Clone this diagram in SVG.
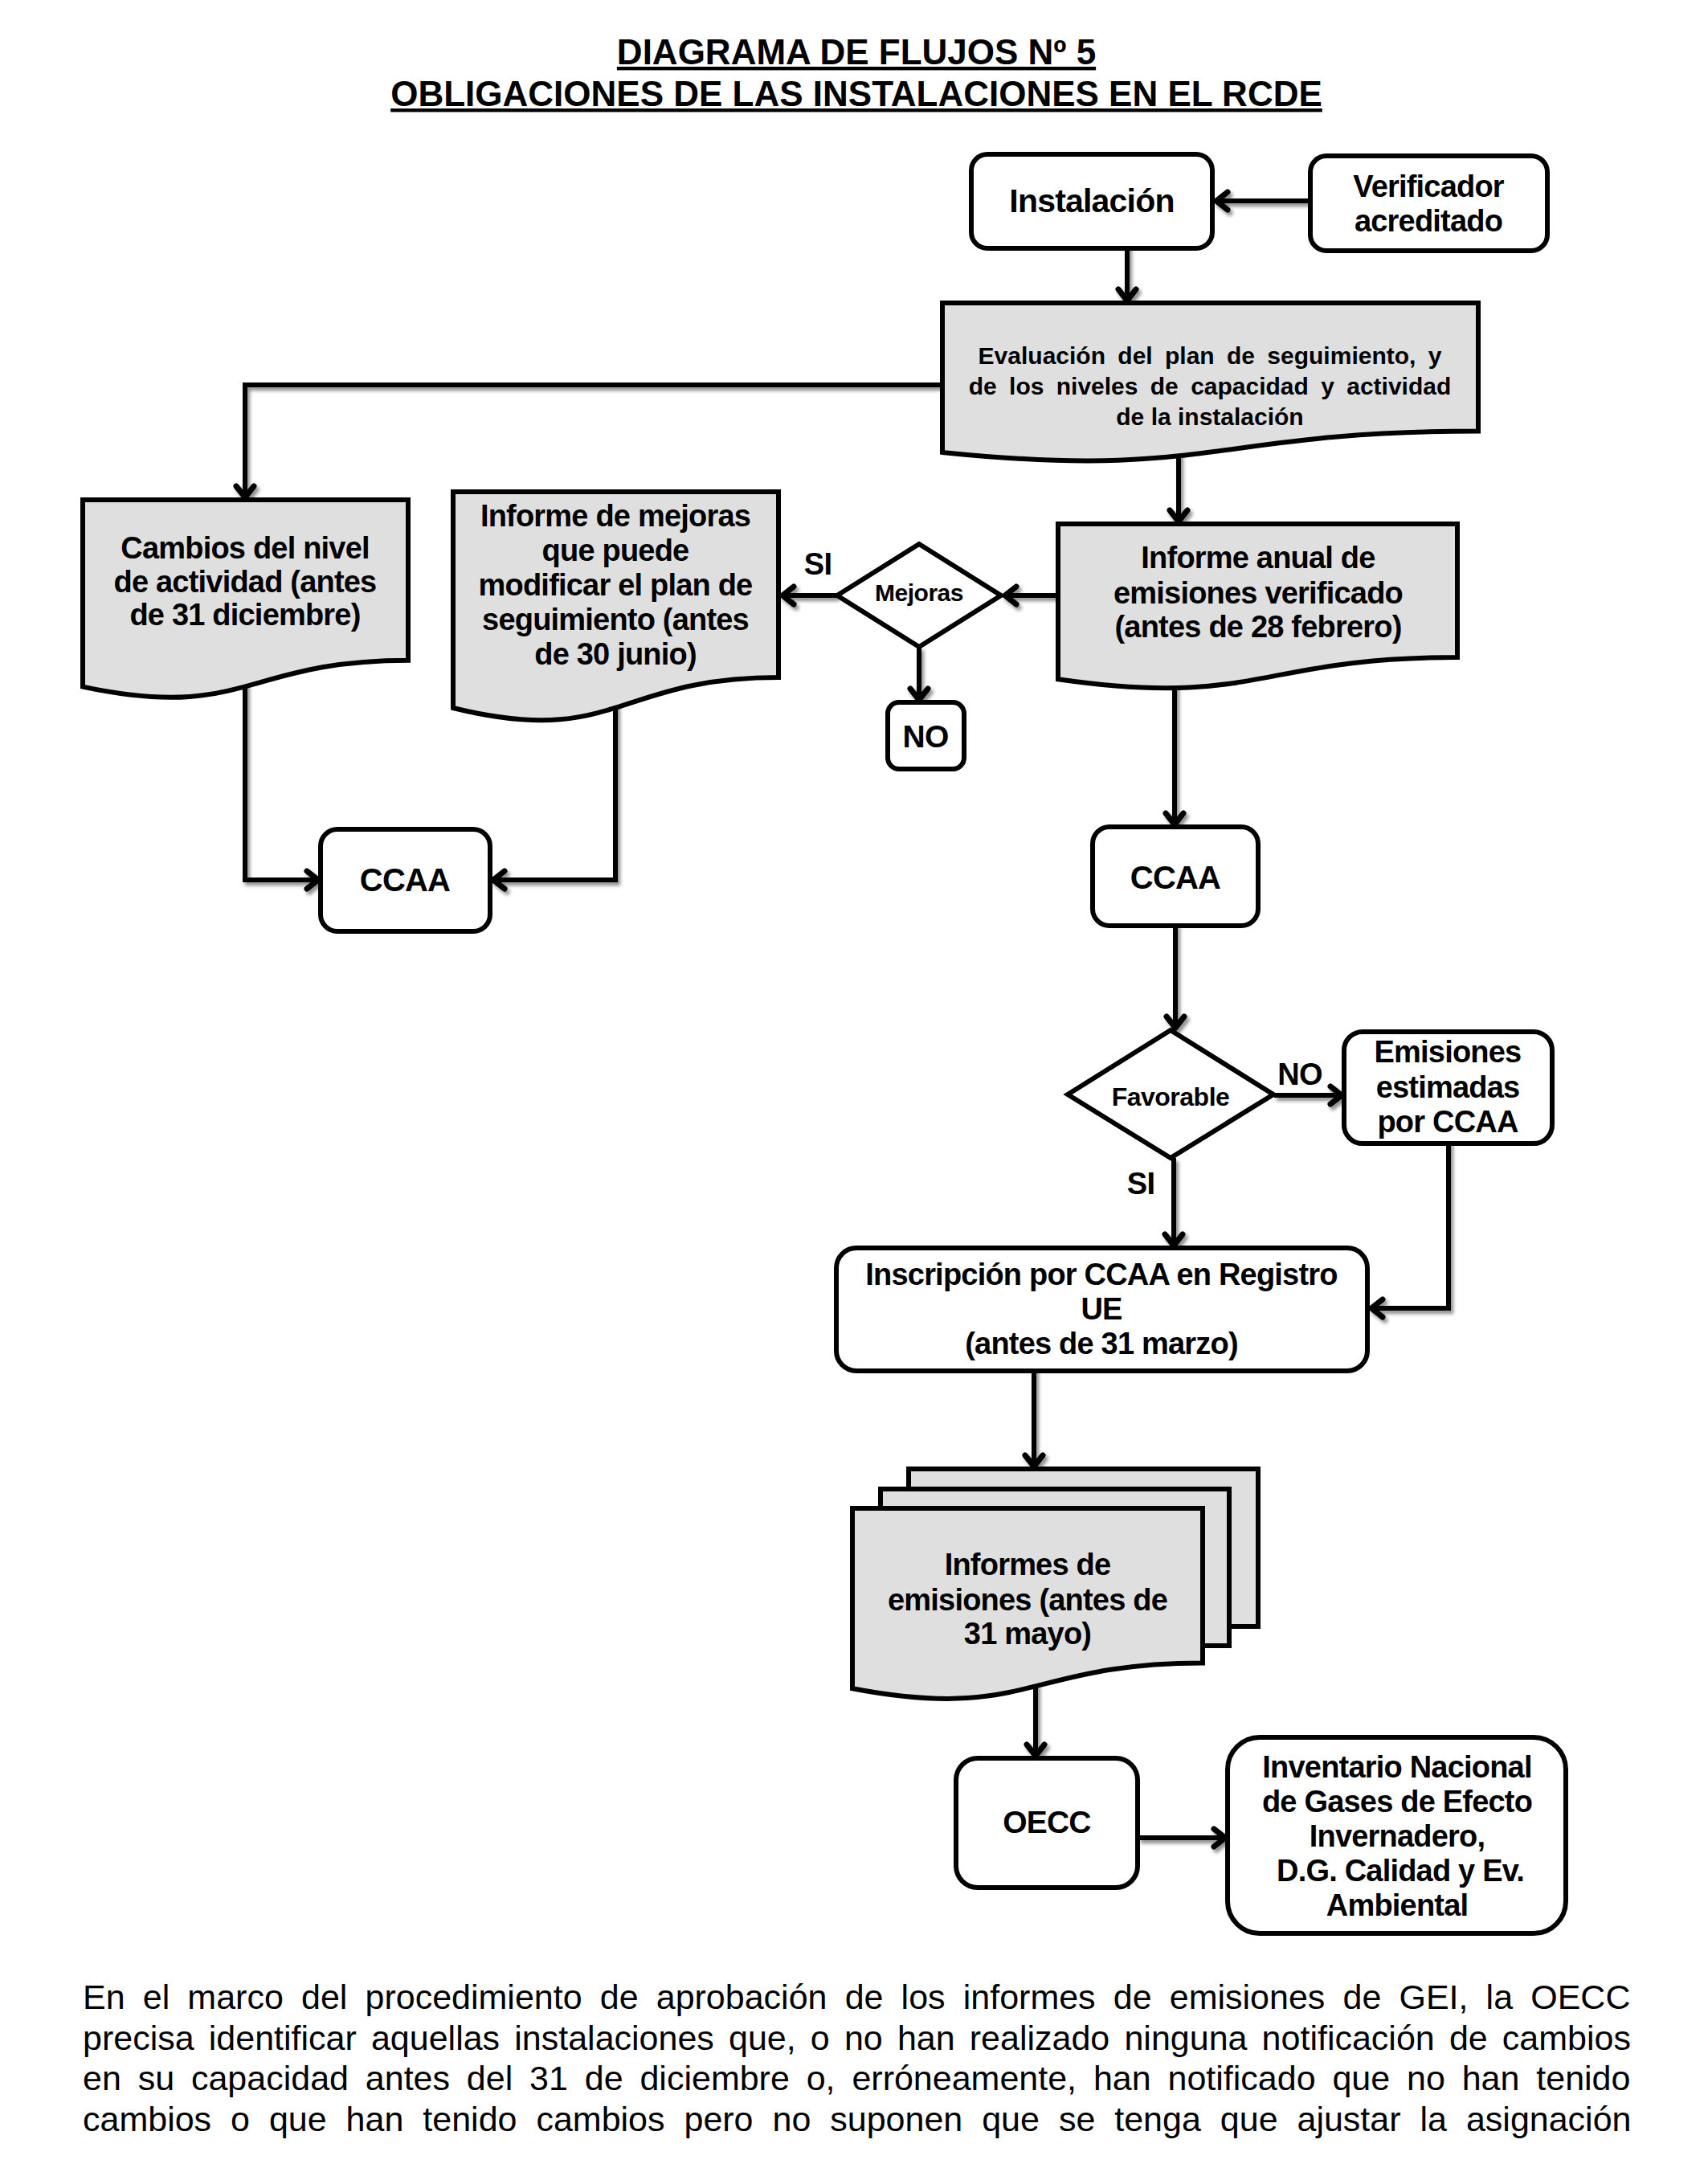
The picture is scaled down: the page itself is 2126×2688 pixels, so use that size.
<svg xmlns="http://www.w3.org/2000/svg" width="2126" height="2688" viewBox="0 0 2126 2688">
<defs>
<style>
.n{fill:#fff;stroke:#000;stroke-width:6}
.d{fill:#dfdfdf;stroke:#000;stroke-width:6;stroke-linejoin:miter}
.t{font-family:"Liberation Sans",Arial,sans-serif;font-weight:bold;font-size:38px;letter-spacing:-0.8px;text-anchor:middle;fill:#000}
.c{fill:none;stroke:#000;stroke-width:6;marker-end:url(#ah)}
.p{font-family:"Liberation Sans",Arial,sans-serif;font-size:43px;fill:#000}
.h{font-family:"Liberation Sans",Arial,sans-serif;font-weight:bold;font-size:44px;text-anchor:middle;fill:#000;text-decoration:underline}
</style>
<marker id="ah" markerUnits="userSpaceOnUse" markerWidth="40" markerHeight="40" viewBox="-30 -20 40 40" refX="0" refY="0" orient="auto" overflow="visible">
<path d="M-15,-11 L-1,0 L-15,11" fill="none" stroke="#000" stroke-width="7" stroke-linecap="round" stroke-linejoin="round"/>
</marker>
<filter id="sh" filterUnits="userSpaceOnUse" x="0" y="0" width="2126" height="2688">
<feDropShadow dx="3" dy="4" stdDeviation="2" flood-color="#000" flood-opacity="0.45"/>
</filter>
</defs>
<rect width="2126" height="2688" fill="#fff"/>

<g id="title">
<text class="h" x="1066" y="80">DIAGRAMA DE FLUJOS Nº 5</text>
<text class="h" x="1066" y="132">OBLIGACIONES DE LAS INSTALACIONES EN EL RCDE</text>
</g>

<g id="connectors" filter="url(#sh)">
<path class="c" d="M1630,250 H1513"/>
<path class="c" d="M1403,300 V375"/>
<path class="c" d="M1180,479 H305 V620"/>
<path class="c" d="M1467,560 V650"/>
<path class="c" d="M1318,741 H1250"/>
<path class="c" d="M1042,741 H973"/>
<path class="c" d="M1144,805 V872"/>
<path class="c" d="M1462,840 V1027"/>
<path class="c" d="M305,850 V1095 H397"/>
<path class="c" d="M766,870 V1095 H613"/>
<path class="c" d="M1463,1150 V1280"/>
<path class="c" d="M1586,1363 H1671"/>
<path class="c" d="M1461,1441 V1551"/>
<path class="c" d="M1803,1420 V1628 H1706"/>
<path class="c" d="M1287,1700 V1826"/>
<path class="c" d="M1289,2095 V2186"/>
<path class="c" d="M1417,2287 H1526"/>
</g>

<g id="instalacion">
<rect class="n" x="1209" y="192" width="300" height="117" rx="20"/>
<text class="t" x="1359" y="264" style="font-size:41px">Instalación</text>
</g>

<g id="verificador">
<rect class="n" x="1631" y="194" width="295" height="118" rx="20"/>
<text class="t" x="1778" y="245">Verificador</text>
<text class="t" x="1778" y="288">acreditado</text>
</g>

<g id="evaluacion">
<path class="d" d="M1173,377 H1840 V536.6 C1506.5,536.6 1506.5,597.3 1173,562.9 Z"/>
<text class="t" x="1506" y="453" style="font-size:30px;letter-spacing:0;word-spacing:7px">Evaluación del plan de seguimiento, y</text>
<text class="t" x="1506" y="491" style="font-size:30px;letter-spacing:0;word-spacing:7px">de los niveles de capacidad y actividad</text>
<text class="t" x="1506" y="529" style="font-size:30px;letter-spacing:0">de la instalación</text>
</g>

<g id="cambios">
<path class="d" d="M103,622 H508 V821.7 C305.5,821.7 305.5,897.6 103,854.6 Z"/>
<text class="t" x="305" y="695">Cambios del nivel</text>
<text class="t" x="305" y="737">de actividad (antes</text>
<text class="t" x="305" y="778">de 31 diciembre)</text>
</g>

<g id="informe-mejoras">
<path class="d" d="M564,612 H969 V843 C766.5,843 766.5,930.8 564,881 Z"/>
<text class="t" x="766" y="655">Informe de mejoras</text>
<text class="t" x="766" y="698">que puede</text>
<text class="t" x="766" y="741">modificar el plan de</text>
<text class="t" x="766" y="784">seguimiento (antes</text>
<text class="t" x="766" y="827">de 30 junio)</text>
</g>

<g id="informe-anual">
<path class="d" d="M1317,652 H1814 V818 C1565.5,818 1565.5,881.1 1317,845.3 Z"/>
<text class="t" x="1566" y="707">Informe anual de</text>
<text class="t" x="1566" y="751">emisiones verificado</text>
<text class="t" x="1566" y="793">(antes de 28 febrero)</text>
</g>

<g id="mejoras">
<path class="n" d="M1042,741 L1144,677 L1246,741 L1144,805 Z" stroke-linejoin="miter"/>
<text class="t" x="1144" y="748" style="font-size:30px;letter-spacing:-0.5px">Mejoras</text>
</g>

<g id="label-si-1">
<text class="t" x="1018" y="715">SI</text>
</g>

<g id="no-box">
<rect class="n" x="1105" y="874" width="95" height="83" rx="14"/>
<text class="t" x="1152" y="930" style="font-size:39px">NO</text>
</g>

<g id="ccaa-left">
<rect class="n" x="399" y="1032" width="211" height="127" rx="21"/>
<text class="t" x="504" y="1109" style="font-size:40px">CCAA</text>
</g>

<g id="ccaa-right">
<rect class="n" x="1360" y="1029" width="206" height="123" rx="21"/>
<text class="t" x="1463" y="1106" style="font-size:40px">CCAA</text>
</g>

<g id="favorable">
<path class="n" d="M1329,1362 L1457,1282 L1585,1362 L1457,1441 Z" stroke-linejoin="miter"/>
<text class="t" x="1457" y="1376" style="font-size:32px;letter-spacing:-0.5px">Favorable</text>
</g>

<g id="label-no-2">
<text class="t" x="1618" y="1350">NO</text>
</g>
<g id="label-si-2">
<text class="t" x="1420" y="1486">SI</text>
</g>

<g id="emisiones-estimadas">
<rect class="n" x="1673" y="1284" width="259" height="139" rx="23"/>
<text class="t" x="1802" y="1322">Emisiones</text>
<text class="t" x="1802" y="1366">estimadas</text>
<text class="t" x="1802" y="1409">por CCAA</text>
</g>

<g id="inscripcion">
<rect class="n" x="1041" y="1553" width="661" height="153" rx="25"/>
<text class="t" x="1371" y="1599">Inscripción por CCAA en Registro</text>
<text class="t" x="1371" y="1642">UE</text>
<text class="t" x="1371" y="1685">(antes de 31 marzo)</text>
</g>

<g id="informes-emisiones">
<rect class="d" x="1131" y="1828" width="435" height="196"/>
<rect class="d" x="1096" y="1853" width="434" height="195"/>
<path class="d" d="M1061,1877 H1497 V2069.5 C1279,2069.5 1279,2142.7 1061,2101.2 Z"/>
<text class="t" x="1279" y="1960">Informes de</text>
<text class="t" x="1279" y="2004">emisiones (antes de</text>
<text class="t" x="1279" y="2046">31 mayo)</text>
</g>

<g id="oecc">
<rect class="n" x="1190" y="2188" width="226" height="161" rx="27"/>
<text class="t" x="1303" y="2281" style="font-size:39px">OECC</text>
</g>

<g id="inventario">
<rect class="n" x="1528" y="2162" width="421" height="244" rx="40"/>
<text class="t" x="1739" y="2212">Inventario Nacional</text>
<text class="t" x="1739" y="2255">de Gases de Efecto</text>
<text class="t" x="1739" y="2298">Invernadero,</text>
<text class="t" x="1743" y="2341">D.G. Calidad y Ev.</text>
<text class="t" x="1739" y="2384">Ambiental</text>
</g>

<g id="paragraph">
<text class="p" x="103" y="2500" style="word-spacing:10.2px">En el marco del procedimiento de aprobación de los informes de emisiones de GEI, la OECC</text>
<text class="p" x="103" y="2551" style="word-spacing:6.2px">precisa identificar aquellas instalaciones que, o no han realizado ninguna notificación de cambios</text>
<text class="p" x="103" y="2601" style="word-spacing:8.9px">en su capacidad antes del 31 de diciembre o, erróneamente, han notificado que no han tenido</text>
<text class="p" x="103" y="2652" style="word-spacing:12px">cambios o que han tenido cambios pero no suponen que se tenga que ajustar la asignación</text>
</g>
</svg>
